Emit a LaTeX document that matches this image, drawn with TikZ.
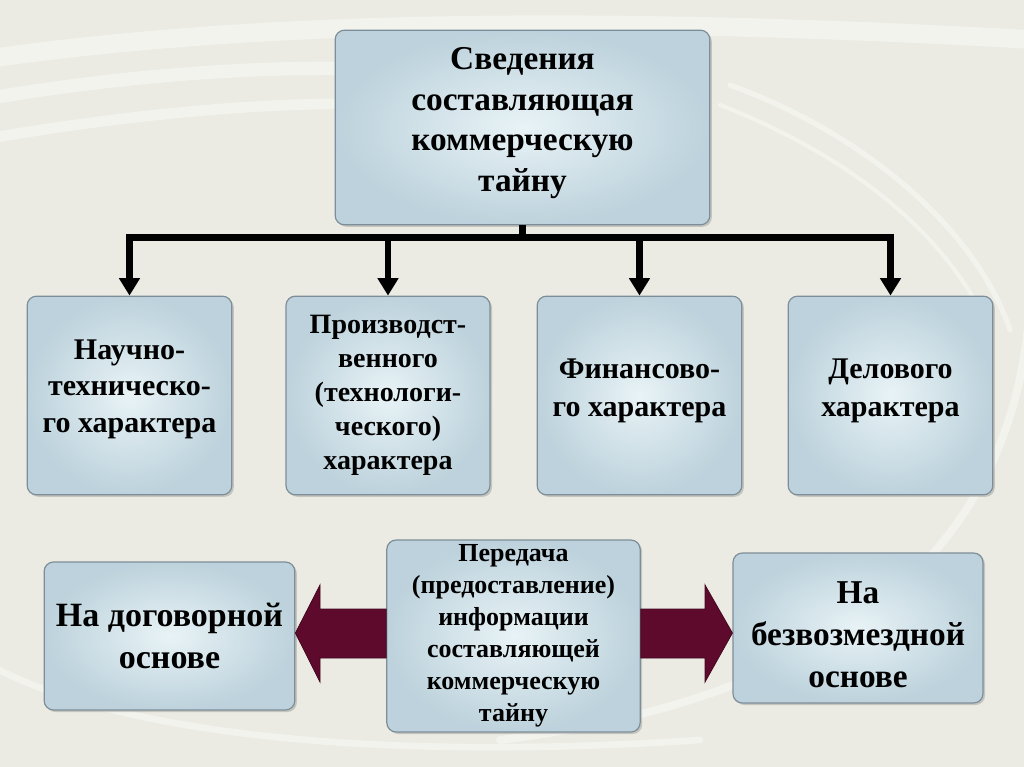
\documentclass[tikz,border=0pt]{standalone}
\usepackage{fontspec}
\setmainfont{Liberation Serif}
\usetikzlibrary{arrows.meta,shadows,calc}
\definecolor{bgcol}{HTML}{EBEBE4}
\definecolor{boxin}{HTML}{E8F3F6}
\definecolor{boxout}{HTML}{BDD2DC}
\definecolor{boxline}{HTML}{7E8E98}
\definecolor{maroon}{HTML}{5E0A2C}
\newcommand\tup[1]{\rule[-#1]{0pt}{#1}}
\newcommand\tdown[1]{\rule{0pt}{#1}}
\tikzset{
  box/.style={draw=boxline, line width=0.9pt, rounded corners=7pt,
    inner color=boxin, outer color=boxout,
    drop shadow={shadow xshift=1.5pt, shadow yshift=-1.5pt, fill=black!45, opacity=0.4},
    align=center, text=black, inner sep=2pt},
  bus/.style={line width=5pt, black},
  drop/.style={line width=5pt, black, -{Triangle[width=15pt,length=13pt]}},
  blockarrow/.style={fill=maroon, draw=maroon!70!black, line width=0.6pt},
  swoosh/.style={white, opacity=0.4, line cap=round}
}
\begin{document}
\begin{tikzpicture}[x=0.75pt,y=-0.75pt]
\useasboundingbox (0,0) rectangle (1024,767);
\fill[bgcol] (0,0) rectangle (1024,767);
% background swooshes
\begin{scope}
\clip (0,0) rectangle (1024,767);
\draw[swoosh, line width=14pt] (-20,60) .. controls (250,20) and (600,15) .. (1040,40);
\draw[swoosh, line width=10pt] (-20,100) .. controls (150,70) and (300,65) .. (400,70);
\draw[swoosh, line width=8pt] (-20,140) .. controls (150,110) and (300,100) .. (400,105);
\draw[swoosh, line width=4pt] (730,85) .. controls (880,140) and (980,240) .. (1010,330);
\draw[swoosh, line width=3pt] (720,105) .. controls (860,160) and (950,240) .. (990,330);
\draw[swoosh, line width=6pt] (1030,300) .. controls (1020,500) and (900,690) .. (500,740);
\draw[swoosh, line width=5pt] (-20,660) .. controls (120,740) and (400,760) .. (700,740);
\end{scope}

% nodes
\node[box, minimum width=281pt, minimum height=146pt,
  font=\bfseries\fontsize{25pt}{30.5pt}\selectfont] (top) at (522.5,127.5)
  {Сведения\\составляющая\\коммерческую\\тайну\tup{12pt}};

\node[box, minimum width=153.5pt, minimum height=149pt,
  font=\bfseries\fontsize{22.5pt}{27.5pt}\selectfont] (n1) at (129.5,395.5)
  {Научно-\\техническо-\\го характера\tup{14pt}};
\node[box, minimum width=153pt, minimum height=149pt,
  font=\bfseries\fontsize{21pt}{25.5pt}\selectfont] (n2) at (388,395.5)
  {Производст-\\венного\\(технологи-\\ческого)\\характера};
\node[box, minimum width=153.5pt, minimum height=149pt,
  font=\bfseries\fontsize{22.5pt}{28.5pt}\selectfont] (n3) at (639.5,395.5)
  {Финансово-\\го характера\tup{11pt}};
\node[box, minimum width=153.5pt, minimum height=149pt,
  font=\bfseries\fontsize{22.5pt}{28.5pt}\selectfont] (n4) at (890.5,395.5)
  {Делового\\характера\tup{11pt}};

\node[box, minimum width=188pt, minimum height=111pt,
  font=\bfseries\fontsize{25.5pt}{31.5pt}\selectfont] (lb) at (169.5,636)
  {На договорной\\основе};
\node[box, minimum width=190pt, minimum height=144pt,
  font=\bfseries\fontsize{19.5pt}{24pt}\selectfont] (cb) at (513.5,636)
  {Передача\\(предоставление)\\информации\\составляющей\\коммерческую\\тайну};
\node[box, minimum width=187.5pt, minimum height=112.5pt,
  font=\bfseries\fontsize{25pt}{31.5pt}\selectfont] (rb) at (858,628)
  {\tdown{27pt}На\\безвозмездной\\основе};

% tree connectors
\coordinate (bj) at ($(top.south)+(0,12)$);
\draw[bus] (top.south) -- (bj);
\draw[bus, line cap=rect] (n1.north |- bj) -- (n4.north |- bj);
\foreach \n in {n1,n2,n3,n4}
  \draw[drop] (\n.north |- bj) -- (\n.north);

% block arrows
\fill[blockarrow] (cb.west |- 0,609) -- (320,609) -- (320,585) -- (lb.east |- 0,633)
  -- (320,682) -- (320,658) -- (cb.west |- 0,658) -- cycle;
\fill[blockarrow] (cb.east |- 0,609) -- (705,609) -- (705,585) -- (rb.west |- 0,633)
  -- (705,682) -- (705,658) -- (cb.east |- 0,658) -- cycle;
\end{tikzpicture}
\end{document}
